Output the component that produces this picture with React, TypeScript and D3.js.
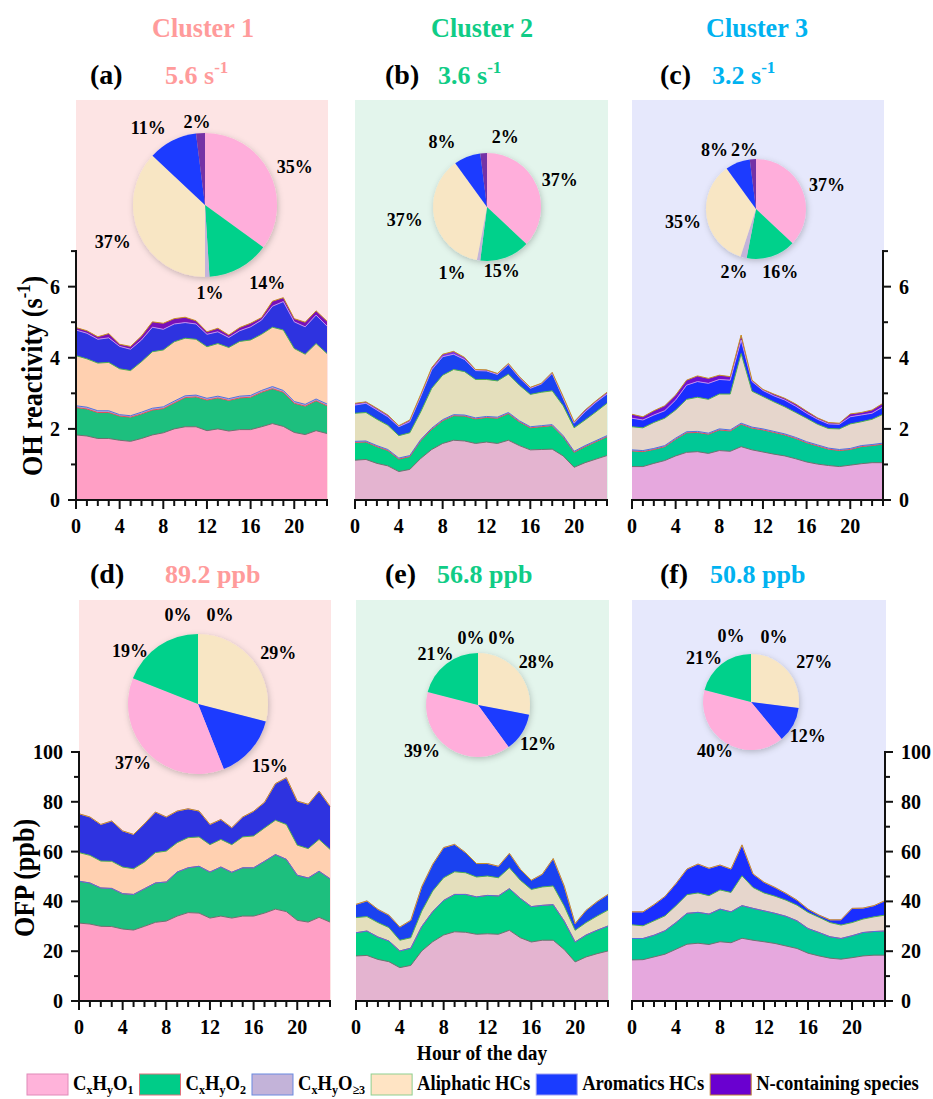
import * as React from 'react';
import * as d3 from 'd3';

// hours of the day
const hours = [0, 1, 2, 3, 4, 5, 6, 7, 8, 9, 10, 11, 12, 13, 14, 15, 16, 17, 18, 19, 20, 21, 22, 23];
const groupKeys = ["O1", "O2", "O3", "Ali", "Aro", "N"];
const clusterNames = ["Cluster 1", "Cluster 2", "Cluster 3"];
const ohTotals = ["5.6", "3.6", "3.2"];
const ofpTotals = ["89.2", "56.8", "50.8"];
const topLetters = ["(a)", "(b)", "(c)"];
const bottomLetters = ["(d)", "(e)", "(f)"];

// OH reactivity (s-1), cluster 1
const oh1O1 = [1.83, 1.80, 1.73, 1.73, 1.68, 1.65, 1.73, 1.83, 1.89, 2.00, 2.06, 2.06, 1.95, 2.00, 1.94, 1.98, 1.98, 2.06, 2.15, 2.07, 1.90, 1.84, 1.95, 1.87];
const oh1O2 = [0.77, 0.76, 0.73, 0.73, 0.68, 0.68, 0.69, 0.70, 0.68, 0.73, 0.82, 0.84, 0.86, 0.87, 0.86, 0.89, 0.91, 0.97, 0.98, 0.96, 0.82, 0.80, 0.84, 0.78];
const oh1O3 = [0.05, 0.05, 0.05, 0.05, 0.04, 0.04, 0.05, 0.05, 0.05, 0.05, 0.05, 0.05, 0.05, 0.05, 0.05, 0.05, 0.05, 0.05, 0.06, 0.05, 0.05, 0.05, 0.05, 0.05];
const oh1Ali = [1.41, 1.36, 1.34, 1.36, 1.29, 1.27, 1.42, 1.59, 1.60, 1.67, 1.62, 1.57, 1.45, 1.48, 1.44, 1.54, 1.56, 1.58, 1.67, 1.70, 1.49, 1.41, 1.56, 1.42];
const oh1Aro = [0.72, 0.72, 0.67, 0.69, 0.63, 0.60, 0.61, 0.69, 0.58, 0.50, 0.44, 0.43, 0.35, 0.33, 0.28, 0.30, 0.37, 0.40, 0.59, 0.80, 0.75, 0.77, 0.80, 0.77];
const oh1N = [0.07, 0.07, 0.07, 0.12, 0.06, 0.08, 0.11, 0.15, 0.17, 0.15, 0.15, 0.09, 0.07, 0.10, 0.07, 0.09, 0.10, 0.07, 0.14, 0.11, 0.09, 0.13, 0.12, 0.14];

// OH reactivity (s-1), cluster 2
const oh2O1 = [1.12, 1.14, 1.03, 0.96, 0.80, 0.86, 1.17, 1.42, 1.59, 1.68, 1.66, 1.59, 1.63, 1.59, 1.68, 1.53, 1.41, 1.42, 1.43, 1.24, 0.92, 1.05, 1.15, 1.25];
const oh2O2 = [0.50, 0.49, 0.47, 0.43, 0.35, 0.36, 0.50, 0.57, 0.64, 0.69, 0.70, 0.69, 0.69, 0.71, 0.75, 0.67, 0.62, 0.64, 0.66, 0.54, 0.42, 0.45, 0.49, 0.53];
const oh2O3 = [0.03, 0.03, 0.03, 0.03, 0.03, 0.03, 0.03, 0.03, 0.03, 0.03, 0.03, 0.03, 0.03, 0.03, 0.03, 0.03, 0.03, 0.03, 0.03, 0.03, 0.03, 0.03, 0.03, 0.03];
const oh2Ali = [0.79, 0.80, 0.74, 0.68, 0.63, 0.64, 0.78, 1.12, 1.25, 1.27, 1.22, 1.08, 1.04, 1.02, 1.08, 1.00, 0.91, 0.94, 0.95, 0.84, 0.66, 0.72, 0.81, 0.91];
const oh2Aro = [0.23, 0.26, 0.26, 0.24, 0.25, 0.31, 0.43, 0.52, 0.52, 0.43, 0.34, 0.25, 0.24, 0.18, 0.27, 0.21, 0.17, 0.23, 0.49, 0.21, 0.13, 0.23, 0.27, 0.26];
const oh2N = [0.05, 0.04, 0.05, 0.05, 0.03, 0.05, 0.06, 0.06, 0.07, 0.08, 0.06, 0.03, 0.03, 0.03, 0.03, 0.03, 0.03, 0.02, 0.03, 0.05, 0.04, 0.05, 0.04, 0.05];

// OH reactivity (s-1), cluster 3
const oh3O1 = [0.94, 0.94, 1.03, 1.11, 1.24, 1.34, 1.36, 1.31, 1.39, 1.37, 1.50, 1.41, 1.35, 1.29, 1.24, 1.16, 1.07, 1.01, 0.97, 0.94, 0.98, 1.02, 1.05, 1.05];
const oh3O2 = [0.44, 0.42, 0.39, 0.39, 0.47, 0.55, 0.54, 0.54, 0.58, 0.57, 0.63, 0.61, 0.62, 0.61, 0.59, 0.57, 0.54, 0.51, 0.46, 0.45, 0.44, 0.48, 0.48, 0.52];
const oh3O3 = [0.03, 0.03, 0.03, 0.03, 0.03, 0.03, 0.03, 0.03, 0.03, 0.03, 0.03, 0.03, 0.03, 0.03, 0.03, 0.03, 0.03, 0.03, 0.03, 0.03, 0.03, 0.03, 0.03, 0.03];
const oh3Ali = [0.65, 0.64, 0.73, 0.77, 0.79, 0.91, 0.96, 0.95, 0.98, 1.01, 1.96, 1.01, 0.91, 0.83, 0.76, 0.70, 0.66, 0.58, 0.55, 0.58, 0.69, 0.67, 0.71, 0.81];
const oh3Aro = [0.24, 0.22, 0.21, 0.21, 0.28, 0.40, 0.44, 0.45, 0.41, 0.39, 0.38, 0.27, 0.17, 0.17, 0.19, 0.18, 0.14, 0.14, 0.13, 0.13, 0.20, 0.19, 0.17, 0.21];
const oh3N = [0.11, 0.09, 0.12, 0.14, 0.14, 0.14, 0.16, 0.14, 0.12, 0.10, 0.14, 0.04, 0.03, 0.05, 0.05, 0.06, 0.06, 0.04, 0.04, 0.03, 0.08, 0.07, 0.09, 0.10];

// OFP (ppb), cluster 1
const ofp1O1 = [31.3, 30.9, 30.0, 29.9, 28.9, 28.5, 30.0, 31.6, 32.1, 34.1, 35.5, 35.3, 33.3, 34.1, 33.3, 34.1, 34.1, 35.3, 36.9, 35.9, 32.4, 31.7, 33.6, 31.7];
const ofp1O2 = [16.8, 16.5, 15.4, 15.3, 14.2, 14.3, 15.1, 15.8, 15.7, 17.7, 18.0, 18.8, 18.5, 19.7, 18.4, 19.4, 19.4, 20.8, 21.9, 21.0, 18.1, 17.7, 18.5, 17.4];
const ofp1O3 = [0, 0, 0, 0, 0, 0, 0, 0, 0, 0, 0, 0, 0, 0, 0, 0, 0, 0, 0, 0, 0, 0, 0, 0];
const ofp1Ali = [11.5, 11.1, 10.8, 10.9, 10.7, 10.3, 10.7, 12.2, 12.4, 11.8, 12.1, 11.8, 11.0, 11.1, 11.1, 12.4, 12.8, 13.4, 13.8, 14.0, 12.1, 11.8, 12.8, 11.8];
const ofp1Aro = [15.6, 15.4, 14.7, 16.2, 14.5, 13.8, 15.4, 16.3, 13.7, 12.7, 11.6, 10.4, 8.1, 8.0, 6.8, 8.0, 9.9, 10.3, 14.7, 18.8, 17.7, 17.8, 19.4, 17.3];
const ofp1N = [0, 0, 0, 0, 0, 0, 0, 0, 0, 0, 0, 0, 0, 0, 0, 0, 0, 0, 0, 0, 0, 0, 0, 0];

// OFP (ppb), cluster 2
const ofp2O1 = [18.1, 18.3, 16.7, 15.8, 13.4, 14.3, 20.1, 23.8, 26.5, 27.8, 27.6, 26.8, 27.0, 26.8, 28.4, 25.4, 23.7, 24.4, 24.4, 20.7, 15.7, 17.7, 19.0, 20.1];
const ofp2O2 = [9.3, 9.8, 9.0, 8.3, 6.7, 6.9, 9.8, 12.1, 13.9, 15.0, 15.2, 15.0, 15.4, 15.4, 16.7, 15.8, 14.2, 14.0, 14.3, 11.4, 8.0, 8.8, 9.4, 10.0];
const ofp2O3 = [0, 0, 0, 0, 0, 0, 0, 0, 0, 0, 0, 0, 0, 0, 0, 0, 0, 0, 0, 0, 0, 0, 0, 0];
const ofp2Ali = [6.1, 5.8, 5.8, 5.4, 4.3, 4.2, 6.2, 8.3, 9.1, 9.1, 8.7, 8.0, 7.8, 7.3, 8.4, 7.3, 6.9, 7.4, 7.5, 6.1, 4.7, 5.0, 5.7, 6.4];
const ofp2Aro = [5.3, 6.3, 5.3, 5.0, 5.3, 7.0, 9.8, 10.7, 12.1, 11.0, 8.1, 5.4, 5.0, 4.6, 5.8, 4.4, 3.7, 5.1, 11.0, 8.0, 2.7, 4.9, 5.8, 6.3];
const ofp2N = [0, 0, 0, 0, 0, 0, 0, 0, 0, 0, 0, 0, 0, 0, 0, 0, 0, 0, 0, 0, 0, 0, 0, 0];

// OFP (ppb), cluster 3
const ofp3O1 = [16.5, 16.6, 17.7, 18.8, 20.8, 22.8, 23.2, 22.7, 23.8, 23.4, 25.2, 24.4, 23.8, 23.1, 22.1, 21.1, 19.2, 18.1, 17.2, 16.8, 17.4, 18.1, 18.4, 18.4];
const ofp3O2 = [8.6, 8.5, 8.7, 9.4, 10.7, 12.4, 12.4, 12.2, 13.1, 12.4, 13.1, 12.8, 12.4, 12.1, 11.9, 11.1, 9.9, 9.4, 8.6, 8.3, 8.8, 9.4, 9.5, 9.7];
const ofp3O3 = [0, 0, 0, 0, 0, 0, 0, 0, 0, 0, 0, 0, 0, 0, 0, 0, 0, 0, 0, 0, 0, 0, 0, 0];
const ofp3Ali = [5.5, 5.1, 5.8, 6.0, 6.8, 7.5, 7.8, 7.4, 7.7, 7.8, 12.0, 8.4, 7.2, 6.9, 6.5, 6.3, 6.5, 6.1, 5.7, 5.4, 5.3, 5.4, 5.9, 6.4];
const ofp3Aro = [5.2, 5.6, 6.5, 7.8, 8.9, 10.3, 11.6, 11.0, 10.0, 9.4, 12.4, 5.4, 4.3, 3.5, 2.7, 2.0, 1.3, 0.9, 1.1, 2.1, 5.7, 4.4, 4.5, 5.8];
const ofp3N = [0, 0, 0, 0, 0, 0, 0, 0, 0, 0, 0, 0, 0, 0, 0, 0, 0, 0, 0, 0, 0, 0, 0, 0];

// pie shares (%) in group order O1, O2, O>=3, aliphatic, aromatics, N
const ohPie1 = [35, 14, 1, 37, 11, 2];
const ohPie2 = [37, 15, 1, 37, 8, 2];
const ohPie3 = [37, 16, 2, 35, 8, 2];
const ofpPie1 = [37, 19, 0, 29, 15, 0];
const ofpPie2 = [39, 21, 0, 28, 12, 0];
const ofpPie3 = [40, 21, 0, 27, 12, 0];

const FONT = "'Liberation Serif', 'Times New Roman', serif";
const pieColors = ["#FFAEDB", "#00D18B", "#C4B4DA", "#F8E6C4", "#1B3BFF", "#7432A6"];
const lineColors = ["#707070", "#E0505A", "#5070E0", "#4FB050", "#C090F0", "#C89020"];
const legendFills = ["#FFB3DA", "#00CC88", "#C3B3D9", "#FFE4C4", "#1A3CFF", "#6A00D0"];
const legendStrokes = ["#E08AB8", "#E0707A", "#6A8AE0", "#8FCF8F", "#A0A0F0", "#C08030"];
const clusterFills = [
    ["#FF9FC5", "#1DBF7E", "#B8A8D8", "#FFD0B0", "#2E33E0", "#7A10B8"],
    ["#E4B4D0", "#00D084", "#B8A8D8", "#E4DFBC", "#1A42F0", "#8030E0"],
    ["#E6A8DE", "#00C896", "#B8A8D8", "#E6D6CC", "#1A2EFF", "#7010D0"]
];
const panelBgs = ["#FDE4E4", "#E3F5EC", "#E6E8FC"];
const titleColors = ["#FF9B9B", "#10CC86", "#00B2F0"];

// pie label nudges (px), per panel, in group order
const labelNudges = [
    [
        [[6, 5], [17, -4], [2, -6], [-6, 0], [-14, 7], [-2, 11]],
        [[3, 3], [-11, -8], [-23, -9], [-8, -4], [-17, 6], [23, 6]],
        [[5, 5], [2, -5], [-4, -7], [-2, 2], [-15, 8], [-7, 13]]
    ],
    [
        [[-2, -4], [-18, 21], [-20, 0], [10, 4], [5, 3], [22, 0]],
        [[-16, -13], [1, 5], [-7, 4], [4, 2], [0, 1], [24, 4]],
        [[0, -8], [-6, 9], [-20, 1], [13, 4], [-2, 2], [23, 2]]
    ]
];

function addText(parent, x, y, txt, size, opt: any = {}) {
    const anchor = opt.anchor || "start";
    const sx = opt.sx || 1;
    let tr = `translate(${x},${y})`;
    if (opt.rotate) tr += ` rotate(${opt.rotate})`;
    if (sx !== 1) tr += ` scale(${sx},1)`;
    const t = parent.append("text")
        .attr("transform", tr)
        .attr("text-anchor", anchor)
        .attr("font-family", FONT)
        .attr("font-weight", "bold")
        .attr("font-size", size)
        .attr("fill", opt.fill || "#000");
    if (txt !== null) t.text(txt);
    return t;
}

class App extends React.Component<any, any> {
    private svgRef = React.createRef<SVGSVGElement>();

    componentDidMount() {
        this.drawChart();
    }

    drawChart() {
        const svg = d3.select(this.svgRef.current);
        svg.selectAll("*").remove();

        const defs = svg.append("defs");
        defs.append("filter")
            .attr("id", "pieShadow")
            .attr("x", "-20%").attr("y", "-20%").attr("width", "140%").attr("height", "140%")
            .append("feDropShadow")
            .attr("dx", 1).attr("dy", 2).attr("stdDeviation", 3)
            .attr("flood-color", "#000").attr("flood-opacity", 0.22);

        const ohData = [
            [oh1O1, oh1O2, oh1O3, oh1Ali, oh1Aro, oh1N],
            [oh2O1, oh2O2, oh2O3, oh2Ali, oh2Aro, oh2N],
            [oh3O1, oh3O2, oh3O3, oh3Ali, oh3Aro, oh3N]
        ];
        const ofpData = [
            [ofp1O1, ofp1O2, ofp1O3, ofp1Ali, ofp1Aro, ofp1N],
            [ofp2O1, ofp2O2, ofp2O3, ofp2Ali, ofp2Aro, ofp2N],
            [ofp3O1, ofp3O2, ofp3O3, ofp3Ali, ofp3Aro, ofp3N]
        ];
        const ohPies = [ohPie1, ohPie2, ohPie3];
        const ofpPies = [ofpPie1, ofpPie2, ofpPie3];

        const rows = [
            {
                top: 100, yRange: [500, 251.1], domain: [0, 7], majors: [0, 2, 4, 6], minors: [1, 3, 5, 7],
                cols: [[76, 327], [355, 607], [632, 883]], data: ohData, pies: ohPies,
                pieGeo: [[205, 205, 72], [487, 207, 54], [756, 209, 50]], pieOrder: [0, 1, 2, 3, 4, 5],
                letters: topLetters, labelY: 84, pieLabelOff: 22
            },
            {
                top: 600, yRange: [1001, 752], domain: [0, 100], majors: [0, 20, 40, 60, 80, 100], minors: [10, 30, 50, 70, 90],
                cols: [[79, 330], [356, 608], [632, 885]], data: ofpData, pies: ofpPies,
                pieGeo: [[198, 704, 70], [478, 705, 52], [751, 702, 48]], pieOrder: [5, 3, 4, 0, 1, 2],
                letters: bottomLetters, labelY: 583, pieLabelOff: 19
            }
        ];

        // cluster titles
        const titleX = [203, 482, 757];
        clusterNames.forEach((name, i) => {
            addText(svg, titleX[i], 37, name, 27, {anchor: "middle", fill: titleColors[i], sx: 0.97});
        });

        rows.forEach((row, ri) => {
            const y = d3.scaleLinear().domain(row.domain).range(row.yRange);
            row.cols.forEach((range, ci) => {
                const x = d3.scaleLinear().domain([0, 23]).range(range);
                const g = svg.append("g");
                const fills = clusterFills[ci];

                g.append("rect")
                    .attr("x", x(0)).attr("y", row.top)
                    .attr("width", x(23) - x(0) + 1).attr("height", y(0) - row.top)
                    .attr("fill", panelBgs[ci]);

                const series = row.data[ci];
                const table = hours.map((h, i) => {
                    const r: any = {hour: h};
                    groupKeys.forEach((k, gi) => { r[k] = series[gi][i]; });
                    return r;
                });
                const stacked = d3.stack().keys(groupKeys)(table);
                const area = d3.area<any>()
                    .x(d => x(d.data.hour))
                    .y0(d => y(d[0]))
                    .y1(d => y(d[1]));
                const line = d3.line<any>()
                    .x(d => x(d.data.hour))
                    .y(d => y(d[1]));

                g.selectAll(".layer")
                    .data(stacked)
                    .enter()
                    .append("path")
                    .attr("class", "layer")
                    .attr("d", area)
                    .attr("fill", (d, i) => fills[i]);
                g.selectAll(".edge")
                    .data(stacked)
                    .enter()
                    .append("path")
                    .attr("class", "edge")
                    .attr("d", line)
                    .attr("fill", "none")
                    .attr("stroke", (d, i) => lineColors[i])
                    .attr("stroke-width", 1);

                // x axis
                const ax = g.append("g").attr("stroke", "#111").attr("stroke-width", 2);
                ax.append("line").attr("x1", x(0) - 1).attr("x2", x(23) + 1).attr("y1", y(0)).attr("y2", y(0));
                hours.forEach(h => {
                    const major = h % 4 === 0;
                    ax.append("line")
                        .attr("x1", x(h)).attr("x2", x(h))
                        .attr("y1", y(0)).attr("y2", y(0) + (major ? 9 : 6));
                });
                [0, 4, 8, 12, 16, 20].forEach(h => {
                    addText(g, x(h), y(0) + 33, String(h), 22, {anchor: "middle", sx: 0.91});
                });

                // y axis on the outer panels
                if (ci !== 1) {
                    const left = ci === 0;
                    const axX = left ? x(0) : x(23);
                    const dir = left ? -1 : 1;
                    const ay = g.append("g").attr("stroke", "#111").attr("stroke-width", 2);
                    ay.append("line").attr("x1", axX).attr("x2", axX)
                        .attr("y1", y(0) + 1).attr("y2", y(row.domain[1]) - 1);
                    row.majors.forEach(v => {
                        ay.append("line").attr("x1", axX).attr("x2", axX + dir * 8)
                            .attr("y1", y(v)).attr("y2", y(v));
                        addText(g, axX + dir * 16, y(v) + 7, String(v), 22,
                            {anchor: left ? "end" : "start", sx: 0.91});
                    });
                    row.minors.forEach(v => {
                        ay.append("line").attr("x1", axX).attr("x2", axX + dir * 5)
                            .attr("y1", y(v)).attr("y2", y(v));
                    });
                }

                // pie of the mean shares
                const [cx, cy, r] = row.pieGeo[ci];
                const ordered = row.pieOrder.map(k => ({key: k, value: row.pies[ci][k]}));
                const pie = d3.pie<any>().sort(null).value(d => d.value);
                const arc = d3.arc<any>().innerRadius(0).outerRadius(r);
                const labelArc = d3.arc<any>().innerRadius(r + row.pieLabelOff).outerRadius(r + row.pieLabelOff);
                const arcs = pie(ordered);
                const pg = g.append("g").attr("transform", `translate(${cx},${cy})`);
                pg.append("g")
                    .attr("filter", "url(#pieShadow)")
                    .selectAll("path")
                    .data(arcs)
                    .enter()
                    .append("path")
                    .attr("d", arc)
                    .attr("fill", d => pieColors[d.data.key]);
                arcs.forEach(a => {
                    const c = labelArc.centroid(a);
                    const nudge = labelNudges[ri][ci][a.data.key];
                    addText(pg, c[0] + nudge[0], c[1] + nudge[1] + 6, a.data.value + "%", 18, {anchor: "middle"});
                });

                // panel letter and mean value
                const letterX = [90, 385, 660][ci];
                const valueX = ri === 0 ? [165, 438, 712][ci] : [165, 437, 710][ci];
                addText(svg, letterX, row.labelY, row.letters[ci], 28);
                if (ri === 0) {
                    const t = addText(svg, valueX, row.labelY, null, 26, {fill: titleColors[ci]});
                    t.append("tspan").text(ohTotals[ci] + " s");
                    t.append("tspan").attr("font-size", 17).attr("dy", -11).text("-1");
                } else {
                    addText(svg, valueX, row.labelY, ofpTotals[ci] + " ppb", 26, {fill: titleColors[ci]});
                }
            });
        });

        // axis titles
        const oh = addText(svg, 42, 376, null, 30, {anchor: "middle", rotate: -90, sx: 0.87});
        oh.append("tspan").text("OH reactivity (s");
        oh.append("tspan").attr("font-size", 19).attr("dy", -12).text("-1");
        oh.append("tspan").attr("dy", 12).text(")");
        addText(svg, 34, 878, "OFP (ppb)", 30, {anchor: "middle", rotate: -90, sx: 0.87});
        addText(svg, 482, 1060, "Hour of the day", 22, {anchor: "middle", sx: 0.88});

        // legend
        const legendParts = [
            [["C", 0], ["x", 1], ["H", 0], ["y", 1], ["O", 0], ["1", 1]],
            [["C", 0], ["x", 1], ["H", 0], ["y", 1], ["O", 0], ["2", 1]],
            [["C", 0], ["x", 1], ["H", 0], ["y", 1], ["O", 0], ["\u22653", 1]],
            [["Aliphatic HCs", 0]],
            [["Aromatics HCs", 0]],
            [["N-containing species", 0]]
        ];
        let lx = 27;
        const lg = svg.append("g");
        legendParts.forEach((parts, i) => {
            lg.append("rect")
                .attr("x", lx).attr("y", 1074).attr("width", 41).attr("height", 21)
                .attr("fill", legendFills[i]).attr("stroke", legendStrokes[i]).attr("stroke-width", 1);
            const t = addText(lg, lx + 46, 1090, null, 20, {sx: 0.93});
            let prevSub = 0;
            parts.forEach(([s, sub]) => {
                const ts = t.append("tspan").text(s as string);
                if (sub) ts.attr("font-size", 13);
                const shift = (sub ? 4 : 0) - prevSub;
                if (shift !== 0) ts.attr("dy", shift);
                prevSub = sub ? 4 : 0;
            });
            const w = (t.node() as SVGTextElement).getComputedTextLength() * 0.93;
            lx += 46 + w + 6;
        });
    }

    render() {
        return (
            <svg ref={this.svgRef} width={933} height={1099}
                 style={{position: "absolute", left: 0, top: 0, background: "#fff"}}/>
        );
    }
}

export default App;
